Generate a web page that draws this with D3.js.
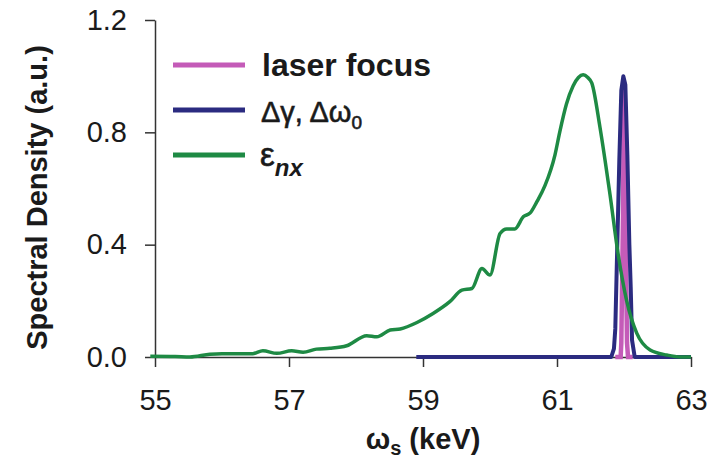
<!DOCTYPE html>
<meta charset="utf-8">
<style>
  body { margin: 0; background: #fff; }
  text { font-family: "Liberation Sans", Arial, sans-serif; fill: #1a1a1a; }
</style>
<body>
<div id="chart"></div>
<script src="https://d3js.org/d3.v7.min.js"></script>
<script>
// tick values
var xTicks = [55, 57, 59, 61, 63];
var yTicks = [0.0, 0.4, 0.8, 1.2];

// emittance curve (green)
var epsX = [54.93, 55.3, 55.52, 55.82, 56.0, 56.46, 56.61, 56.82, 57.04, 57.21, 57.41, 57.61, 57.86,
  58.16, 58.31, 58.51, 58.66, 58.91, 59.15, 59.40, 59.58, 59.73, 59.88, 60.0, 60.15, 60.25, 60.37,
  60.50, 60.60, 60.70, 60.82, 60.97, 61.04, 61.14, 61.24, 61.32, 61.39, 61.46, 61.52, 61.64, 61.79,
  61.91, 62.04, 62.19, 62.39, 62.64, 62.84, 63.0];
var epsY = [0.003, 0.002, 0.0, 0.01, 0.012, 0.012, 0.022, 0.013, 0.022, 0.017, 0.028, 0.031, 0.04,
  0.076, 0.072, 0.096, 0.10, 0.123, 0.155, 0.197, 0.238, 0.244, 0.315, 0.292, 0.44, 0.456, 0.456,
  0.50, 0.513, 0.553, 0.61, 0.72, 0.80, 0.90, 0.965, 0.995, 1.005, 0.995, 0.975, 0.82, 0.58,
  0.37, 0.20, 0.085, 0.025, 0.007, 0.0, 0.0];

// energy spread / frequency (blue)
var dgX = [58.9, 61.81, 61.85, 61.87, 61.89, 61.93, 61.96, 61.99, 62.02, 62.05, 62.08, 62.10, 62.12, 62.16, 63.0];
var dgY = [0, 0, 0.03, 0.1, 0.3, 0.7, 0.95, 1.0, 0.97, 0.72, 0.4, 0.25, 0.06, 0, 0];

// laser focus (pink)
var lfX = [61.87, 61.95, 61.96, 61.985, 62.0, 62.02, 62.045, 62.06, 62.13];
var lfY = [0, 0, 0.05, 0.5, 0.98, 0.5, 0.05, 0, 0];

var colors = { lf: "#c45bb8", dg: "#2b2b80", eps: "#1e8a44" };

var margin = { top: 20, right: 21, bottom: 101, left: 155 },
  width = 712 - margin.left - margin.right,
  height = 458 - margin.top - margin.bottom;

var svg = d3.select("#chart").append("svg")
  .attr("width", 712)
  .attr("height", 458);
var g = svg.append("g")
  .attr("transform", "translate(" + margin.left + "," + margin.top + ")");

var x = d3.scaleLinear().domain([55, 63]).range([0, width]);
var y = d3.scaleLinear().domain([0, 1.2]).range([height, 0]);

// axes
var xAxis = g.append("g")
  .attr("transform", "translate(0," + height + ")")
  .call(d3.axisBottom(x).tickValues(xTicks).tickSize(10).tickPadding(22).tickSizeOuter(0));
var yAxis = g.append("g")
  .call(d3.axisLeft(y).tickValues(yTicks).tickSize(10).tickPadding(18).tickSizeOuter(0)
    .tickFormat(d3.format(".1f")));
[xAxis, yAxis].forEach(function (a) {
  a.selectAll("path, line").attr("stroke", "#333").attr("stroke-width", 1.5);
  a.selectAll("text").style("font-size", "29px").attr("fill", "#1a1a1a")
    .style("font-family", "'Liberation Sans', Arial, sans-serif");
});

// curves
function line(xs, ys, curve) {
  return d3.line().curve(curve)
    .x(function (d, i) { return x(xs[i]); })
    .y(function (d, i) { return y(ys[i]); })(xs);
}
g.append("path").attr("d", line(lfX, lfY, d3.curveLinear))
  .attr("fill", "none").attr("stroke", colors.lf).attr("stroke-width", 4.5);
g.append("path").attr("d", line(dgX, dgY, d3.curveLinear))
  .attr("fill", "none").attr("stroke", colors.dg).attr("stroke-width", 4).attr("stroke-linejoin", "round");
g.append("path").attr("d", line(epsX, epsY, d3.curveMonotoneX))
  .attr("fill", "none").attr("stroke", colors.eps).attr("stroke-width", 3.5).attr("stroke-linejoin", "round");

// axis titles
svg.append("text")
  .attr("transform", "translate(47," + (margin.top + height / 2 + 9) + ") rotate(-90)")
  .style("text-anchor", "middle")
  .style("font-size", "29px").style("font-weight", "bold")
  .text("Spectral Density (a.u.)");

var xt = svg.append("text")
  .attr("x", margin.left + width / 2)
  .attr("y", 449)
  .style("text-anchor", "middle")
  .style("font-size", "29px").style("font-weight", "bold");
xt.append("tspan").text("ω");
xt.append("tspan").attr("dy", 6).style("font-size", "20px").text("s");
xt.append("tspan").attr("dy", -6).text(" (keV)");

// legend
var leg = svg.append("g");
var rows = [
  { c: colors.lf, y: 65 },
  { c: colors.dg, y: 110 },
  { c: colors.eps, y: 155 }
];
rows.forEach(function (r) {
  leg.append("line").attr("x1", 173).attr("x2", 245).attr("y1", r.y).attr("y2", r.y)
    .attr("stroke", r.c).attr("stroke-width", 5);
});
leg.append("text").attr("x", 262).attr("y", 76)
  .style("font-size", "32px").style("font-weight", "bold").text("laser focus");
var t2 = leg.append("text").attr("x", 261).attr("y", 122).style("font-size", "29px")
  .attr("stroke", "#1a1a1a").attr("stroke-width", 0.6);
t2.append("tspan").text("Δγ, Δω");
t2.append("tspan").attr("dy", 7).style("font-size", "19px").text("0");
var t3 = leg.append("text").attr("x", 260).attr("y", 166).style("font-size", "33px")
  .attr("stroke", "#1a1a1a").attr("stroke-width", 0.6);
t3.append("tspan").text("ε");
t3.append("tspan").attr("dy", 10).style("font-size", "24px").style("font-style", "italic")
  .style("font-weight", "bold").attr("stroke-width", 0).text("nx");
</script>
</body>
